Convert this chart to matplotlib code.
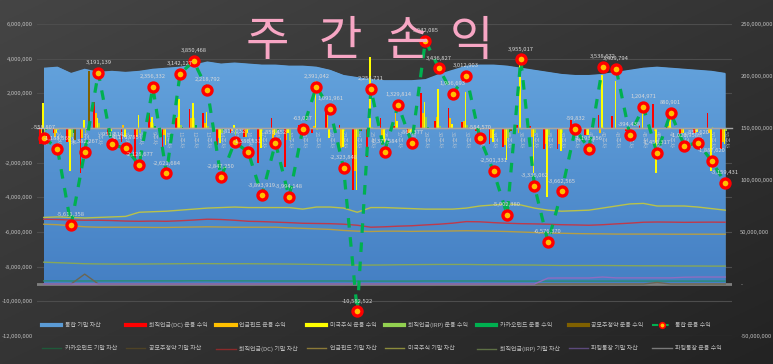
import numpy as np
import matplotlib
matplotlib.use("Agg")
import matplotlib.pyplot as plt
from matplotlib.lines import Line2D
from matplotlib.ticker import FuncFormatter, FixedLocator
import matplotlib.colors as mcolors

plt.rcParams['font.family'] = ['Noto Sans CJK KR', 'DejaVu Sans']

# ---------------- data ----------------
weeks = [f"{i}주차" for i in range(1, 52)]

total_profit = [-558807, -1188565, -5611358, -1382267, 3191139, -951614, -1170785, -2128677,
                2356332, -2621684, 3142127, 3850468, 2218792, -2847250, -813032, -1386531,
                -3893919, -856452, -3994148, -63027, 2391042, 1091961, -2323848, -10582522,
                2254711, -1377584, 1329814, -864377, 5042085, 3436827, 1986693, 3012903,
                -584570, -2501331, -5002380, 3955017, -3336062, -6576370, -3662565, -59832,
                -1193856, 3538672, 3409794, -394438, 1204971, -1456317, 880901, -1020958,
                -857620, -1887620, -3159431]

# 통합 기말 자산 (million won)
total_asset = [208, 209, 203, 207, 204, 205, 204, 205, 207, 208, 209, 211, 214, 212, 213, 212,
               211, 211, 210, 210, 209, 206, 201, 199, 197, 196, 196, 196, 197, 202, 206, 210,
               211, 211, 210, 208, 206, 204, 202, 201, 201, 202, 204, 206, 208, 209, 208, 207,
               206, 205, 203]

# 운용 수익 bars (million won)
dc_profit = [-0.9, -0.3, -0.8, -2.6, 1.5, -0.4, -0.8, -2.0, 0.85, -1.2, 0.55, 1.1, 0.85, -1.0,
             -0.3, -0.5, -2.0, 0.55, -2.25, 0.2, -0.3, 0.95, 0.15, -3.6, -1.7, 0.55, 0.1, -0.3,
             2.0, 0.4, 1.15, 0.35, -0.2, -0.9, -1.1, 0.15, 0.1, -1.2, -1.2, 0.46, -0.4, 0.75,
             0.7, -0.2, 0.15, 1.38, 0.2, -0.4, -0.3, 0.85, -1.2]
pension_profit = [-0.7, -0.5, -0.8, -0.6, 0.85, -0.3, 0.2, -0.5, 0.35, -0.4, 0.65, 0.6, 0.3, -0.6,
                  -0.2, -0.5, -0.5, -0.6, -0.7, -0.1, 0.1, 0.75, -1.15, -2.5, -0.2, -1.0, 0.85,
                  -0.3, 0.85, 0.65, 0.6, 0.4, -0.2, -0.6, -1.0, -0.3, -0.5, -0.9, -0.9, -0.2,
                  -0.4, -0.3, 0.01, -0.1, 0.0, -0.2, 0.1, -0.3, -0.3, -0.3, -0.8]
us_profit = [1.44, -0.3, -2.5, 0.46, 0.55, -0.2, -0.5, 0.75, 0.65, -1.0, 1.7, 1.45, 0.95, -0.85,
             0.15, -0.3, -1.15, -0.4, -0.3, -0.15, 2.7, -0.6, -1.1, -3.6, 4.1, -0.8, 0.4, -0.25,
             1.5, 2.25, 0.25, 2.1, -0.2, -0.8, -1.85, 4.2, -2.6, -4.0, -1.3, -0.3, -0.4, 3.05,
             2.7, -0.1, 1.05, -2.6, 0.55, -0.3, -0.25, -2.5, -0.9]
irp_profit = [-0.3, -0.1, -0.5, -0.3, 0.3, -0.05, -0.05, -0.3, 0.3, -0.02, 0.2, 0.55, 0.1, -0.3,
              -0.4, -0.09, -0.2, -0.3, -0.7, -0.01, -0.1, -0.01, -0.2, -0.5, 0.05, -0.13, -0.02,
              -0.01, 0.65, 0.14, -0.01, 0.16, 0.02, -0.2, -0.6, -0.09, -0.3, -0.4, -0.26, -0.02,
              0.01, 0.04, 0.0, 0.01, 0.0, -0.04, 0.03, -0.02, -0.01, 0.06, -0.2]
kakao_profit = [-0.1, 0.0, -0.3, -0.1, 0.0, 0.0, 0.0, 0.0, 0.1, 0.0, 0.04, 0.15, 0.02, -0.1,
                -0.06, 0.0, -0.04, -0.1, -0.04, 0.0, -0.01, 0.0, -0.02, -0.2, 0.0, 0.0, 0.0, 0.0,
                0.04, 0.0, 0.0, 0.0, 0.0, 0.0, -0.25, 0.0, -0.04, -0.08, 0.0, 0.0, 0.0, 0.0, 0.0,
                0.0, 0.0, 0.0, 0.0, 0.0, 0.0, 0.0, -0.06]
ipo_profit = [0.0, 0.0, -0.7, 3.3, 0.0, 0.0, 0.0, 0.0, 0.0, 0.0, 0.0, 0.0, 0.0, 0.0, 0.0, 0.0,
              0.0, 0.0, 0.0, 0.0, 0.0, 0.0, 0.0, -0.18, 0.0, 0.0, 0.0, 0.0, 0.0, 0.0, 0.0, 0.0,
              0.0, 0.0, -0.2, 0.0, 0.0, 0.0, 0.0, 0.0, 0.0, 0.0, 0.0, 0.0, 0.0, 0.0, 0.0, 0.0,
              0.0, 0.0, 0.0]

# 기말 자산 lines (million won)
us_asset = [64, 64.5, 64, 63.5, 64, 64.5, 65, 69, 69.5, 70, 71, 72, 73, 73.5, 74, 73.5, 73.5,
            73.5, 73.5, 72, 74, 74, 73, 69, 73.5, 73.5, 73, 72.5, 72, 72, 72, 73, 75, 76, 77, 76,
            73, 71, 70, 70.5, 71, 73, 75, 77, 77.5, 75, 75, 75, 74, 72.5, 71]
dc_asset = [62.3, 62.0, 61.5, 61.3, 61.3, 61.0, 60.5, 60.3, 60.5, 60.3, 60.8, 61.5, 62.3, 62.0,
            61.3, 60.3, 60.0, 59.5, 59.0, 58.4, 58.2, 58.0, 57.5, 56.5, 54.6, 55.0, 55.6, 56.0,
            56.8, 57.5, 58.5, 60.0, 59.8, 59.0, 58.4, 58.0, 57.8, 57.5, 57.0, 56.8, 56.5, 57.0,
            57.8, 58.5, 59.4, 59.6, 59.5, 59.3, 59.4, 59.5, 59.4]
pension_asset = [57.5, 57.0, 56.0, 55.0, 54.6, 54.6, 54.6, 54.6, 54.4, 54.4, 54.6, 54.8, 55.0,
                 54.8, 54.6, 54.6, 54.6, 54.6, 54.0, 53.5, 53.0, 52.5, 51.5, 50.8, 50.5, 50.8,
                 50.8, 50.6, 50.8, 50.8, 51.0, 51.2, 51.0, 50.8, 50.5, 50.0, 49.5, 49.0, 48.8,
                 48.5, 48.3, 48.2, 48.0, 48.0, 48.0, 48.0, 47.9, 47.9, 47.9, 47.9, 47.9]
irp_asset = [21, 20.5, 20, 19.5, 19.3, 19.2, 19.2, 19.2, 19.3, 19.4, 19.5, 19.6, 19.6, 19.5, 19.5,
             19.5, 19.4, 19.3, 19.2, 19.0, 18.8, 18.6, 18.4, 18.2, 18.2, 18.3, 18.5, 18.6, 18.7,
             18.8, 18.8, 18.8, 18.6, 18.5, 18.4, 18.3, 18.2, 18.0, 17.8, 17.8, 17.8, 17.8, 17.7,
             17.6, 17.5, 17.5, 17.4, 17.3, 17.3, 17.2, 17.2]
kakao_asset = [3.0, 3.0, 2.9, 2.9, 3.0, 3.0, 3.0, 3.0, 3.0, 3.0, 3.0, 3.1, 3.1, 3.0, 3.0, 3.0,
               2.9, 2.9, 2.9, 2.9, 2.9, 2.9, 2.9, 2.8, 2.8, 2.8, 2.8, 2.8, 2.9, 2.9, 2.9, 2.9,
               2.9, 2.9, 2.8, 2.8, 2.8, 2.8, 2.8, 2.8, 2.8, 2.8, 2.8, 2.8, 2.8, 2.8, 2.8, 2.8,
               2.8, 2.8, 2.8]
ipo_asset = [0, 0, 0, 9.5, 0, 0, 0, 0, 0, 0, 0, 0, 0, 0, 0, 0, 0, 0, 0, 0, 0, 0, 0, 0, 0, 0, 0,
             0, 0, 0, 0, 0, 0, 0, 0, 0, 0, 0, 0, 0, 0, 0, 0, 0, 0, 1.5, 0, 0, 0, 0, 0]
parking_asset = [0, 0, 0, 0, 0, 0, 0, 0, 0, 0, 0, 0, 0, 0, 0, 0, 0, 0, 0, 0, 0, 0, 0, 0, 0, 0,
                 0, 0, 0, 0, 0, 0, 0, 0, 0, 0, 0, 5.7, 5.8, 5.8, 5.8, 6.7, 5.9, 5.9, 5.9, 5.9,
                 5.9, 6.5, 6.7, 6.7, 6.7]
parking_profit = [0.01] * 51

left_ticks = [6000000, 4000000, 2000000, 0, -2000000, -4000000, -6000000, -8000000,
              -10000000, -12000000]
right_ticks = [250000000, 200000000, 150000000, 100000000, 50000000, 0, -50000000]

# ---------------- figure ----------------
W, H = 773, 364
fig = plt.figure(figsize=(W / 100, H / 100), dpi=100)

bg = fig.add_axes([0, 0, 1, 1], zorder=-10)
yy, xx = np.mgrid[0:1:200j, 0:1:200j]
g = 0.5 * yy + 0.5 * xx
c1 = np.array(mcolors.to_rgb('#454545'))
c2 = np.array(mcolors.to_rgb('#232323'))
img = c1[None, None, :] * (1 - g[..., None]) + c2[None, None, :] * g[..., None]
bg.imshow(img, aspect='auto', extent=[0, 1, 0, 1], origin='upper')
bg.axis('off')

L, R, T, B = 37, 732, 24, 336
rect = [L / W, 1 - B / H, (R - L) / W, (B - T) / H]
axL = fig.add_axes(rect)
axR = axL.twinx()
axL.set_zorder(3)
axR.set_zorder(2)
axL.patch.set_visible(False)
axR.patch.set_visible(False)

x = np.arange(len(weeks))
axL.set_xlim(-0.5, len(weeks) - 0.5)
axR.set_ylim(-50e6, 250e6)
axL.set_ylim(-12e6, 6e6)

# ----- right axis: area + asset lines -----
for t in left_ticks:
    rv = -50e6 + (t + 12e6) / 18e6 * 300e6
    axR.axhline(rv, color='#4d4d4d', lw=0.8, zorder=0)

ta = np.array(total_asset) * 1e6
poly = axR.fill_between(x, 0, ta, color='#5b9bd5', lw=0, zorder=1)
grad = np.linspace(0, 1, 256)[:, None]
top_c = np.array(mcolors.to_rgb('#63a2dc'))
bot_c = np.array(mcolors.to_rgb('#4580c4'))
gimg = top_c[None, None, :] * (1 - grad[..., None]) + bot_c[None, None, :] * grad[..., None]
gimg = np.repeat(gimg, 2, axis=1)
im = axR.imshow(gimg, aspect='auto', extent=[0, len(weeks) - 1, 0, max(ta)], origin='upper',
                zorder=1.1)
im.set_clip_path(poly.get_paths()[0], transform=axR.transData)
axR.set_xlim(-0.5, len(weeks) - 0.5)
axR.set_ylim(-50e6, 250e6)

axR.axhline(0, color='#7f7f7f', lw=2, zorder=1.5)

line_specs = [
    (kakao_asset, '#2a8c74'),
    (ipo_asset, '#6b6653'),
    (dc_asset, '#c0394a'),
    (pension_asset, '#b59e45'),
    (us_asset, '#b9c24a'),
    (irp_asset, '#86a75a'),
    (parking_asset, '#8f6cc0'),
]
for vals, col in line_specs:
    axR.plot(x, np.array(vals) * 1e6, color=col, lw=1.0, zorder=2)

axR.yaxis.set_major_locator(FixedLocator(right_ticks))
axR.yaxis.set_major_formatter(FuncFormatter(lambda v, p: '-' if v == 0 else f"{int(v):,}"))
axR.tick_params(axis='y', length=0, labelsize=4.2, labelcolor='#bfbfbf', pad=6)
for s in axR.spines.values():
    s.set_visible(False)

# ----- left axis: bars + total line -----
axL.yaxis.set_major_locator(FixedLocator(left_ticks))
axL.yaxis.set_major_formatter(FuncFormatter(lambda v, p: '-' if v == 0 else f"{int(v):,}"))
axL.tick_params(axis='y', length=0, labelsize=4.2, labelcolor='#bfbfbf', pad=3)
for s in axL.spines.values():
    s.set_visible(False)

bar_series = [
    (dc_profit, '#ff0000'),
    (pension_profit, '#ffc000'),
    (us_profit, '#ffff00'),
    (irp_profit, '#92d050'),
    (kakao_profit, '#00b050'),
    (ipo_profit, '#7f6000'),
]
bw = 0.12
for k, (vals, col) in enumerate(bar_series):
    off = (k - 2.5) * bw
    axL.bar(x + off, np.array(vals) * 1e6, width=bw, color=col, lw=0, zorder=3)

axL.plot(x, np.array(parking_profit) * 1e6, color='#9a9a9a', lw=1.0, zorder=3.5)

axL.spines['bottom'].set_visible(True)
axL.spines['bottom'].set_position(('data', 0))
axL.spines['bottom'].set_color('#a6a6a6')
axL.spines['bottom'].set_linewidth(1.0)
axL.spines['bottom'].set_zorder(3.6)
axL.set_xticks(x)
axL.set_xticklabels(weeks, rotation=270, fontsize=4.2, color='#d0d0d0')
axL.tick_params(axis='x', length=0, pad=2)
for lbl in axL.get_xticklabels():
    lbl.set_alpha(0.7)

tp = np.array(total_profit)
axL.plot(x, tp, color='#00b050', lw=2.3, dashes=(3, 3), zorder=5)
axL.plot(x, tp, ls='none', marker='o', ms=6.5, mfc='#ffc000', mec='#ff0000', mew=2.4, zorder=6)
for xi, v in zip(x, tp):
    axL.annotate(f"{v:,}", (xi, v), xytext=(0, 7.5), textcoords='offset points',
                 ha='center', va='center', fontsize=4.2, color='#d9d9d9', zorder=7)

# title
for ch, px in zip("주간손익", [267, 340, 407, 471]):
    fig.text(px / W, 1 - 42 / H, ch, fontsize=34, color='#f7a6c4', ha='center', va='center')

# legend
row1 = [
    (Line2D([], [], color='#5b9bd5', lw=3), '통합 기말 자산'),
    (Line2D([], [], color='#ff0000', lw=3), '퇴직연금(DC) 운용 수익'),
    (Line2D([], [], color='#ffc000', lw=3), '연금펀드 운용 수익'),
    (Line2D([], [], color='#ffff00', lw=3), '미국주식 운용 수익'),
    (Line2D([], [], color='#92d050', lw=3), '퇴직연금(IRP) 운용 수익'),
    (Line2D([], [], color='#00b050', lw=3), '카카오펀드 운용 수익'),
    (Line2D([], [], color='#7f6000', lw=3), '공모주청약 운용 수익'),
    (Line2D([], [], color='#00b050', lw=1.5, dashes=(3, 2), marker='o', ms=4, mfc='#ffc000',
            mec='#ff0000', mew=1.2), '통합 운용 수익'),
]
row2 = [
    (Line2D([], [], color='#1f5a3a', lw=1.0), '카카오펀드 기말 자산'),
    (Line2D([], [], color='#4f4326', lw=1.0), '공모주청약 기말 자산'),
    (Line2D([], [], color='#8a2a2a', lw=1.0), '퇴직연금(DC) 기말 자산'),
    (Line2D([], [], color='#8c7a38', lw=1.0), '연금펀드 기말 자산'),
    (Line2D([], [], color='#8c8c3c', lw=1.0), '미국주식 기말 자산'),
    (Line2D([], [], color='#5e7045', lw=1.0), '퇴직연금(IRP) 기말 자산'),
    (Line2D([], [], color='#5c4a7c', lw=1.0), '파킹통장 기말 자산'),
    (Line2D([], [], color='#7a7a7a', lw=1.0), '파킹통장 운용 수익'),
]
handles, labels = [], []
for a, b in zip(row1, row2):
    handles += [a[0], b[0]]
    labels += [a[1], b[1]]
fig.legend(handles, labels, ncol=8, loc='center', bbox_to_anchor=(382 / W, 1 - 337 / H),
           frameon=False, fontsize=4.3, handlelength=3.2, columnspacing=1.5,
           labelspacing=2.9, labelcolor='#bfbfbf', handletextpad=0.6)

fig.savefig('out.png', dpi=100, facecolor=fig.get_facecolor())
